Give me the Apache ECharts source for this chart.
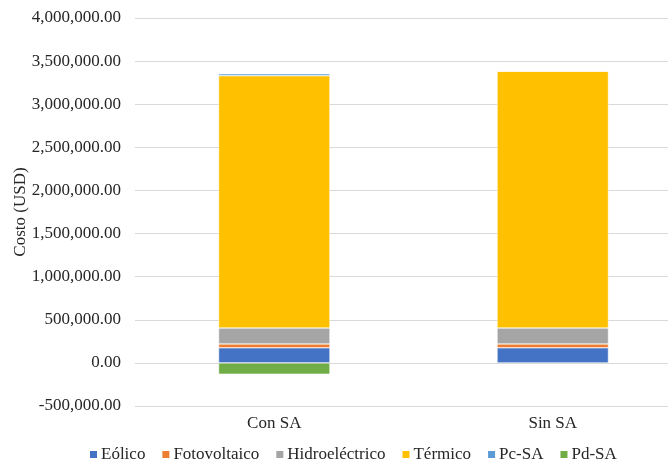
<!DOCTYPE html>
<html>
<head>
<meta charset="utf-8">
<script src="https://cdn.jsdelivr.net/npm/echarts@6/dist/echarts.min.js"></script>
<style>
    html, body { margin: 0; padding: 0; background: #fff; }
    #main { width: 668px; height: 465px; }
</style>
</head>
<body>
<div id="main"></div>
<script>
// datos
var categories = ['Con SA', 'Sin SA'];
var eolico = [175000, 175000];
var fotovoltaico = [45000, 45000];
var hidro = [185000, 185000];
var termico = [2925000, 2979000];
var pcSA = [22000, 0];
var pdSA = [-131000, 0];
var seriesNames = ['Eólico', 'Fotovoltaico', 'Hidroeléctrico', 'Térmico', 'Pc-SA', 'Pd-SA'];

var colors = ['#4472C4', '#ED7D31', '#A5A5A5', '#FFC000', '#5B9BD5', '#70AD47'];
var font = '"Liberation Serif", "Times New Roman", serif';
var txt = '#262626';

function fmt(v) {
    var s = Math.abs(v).toFixed(2).replace(/\B(?=(\d{3})+(?!\d))/g, ',');
    return (v < 0 ? '-' : '') + s;
}

function bar(name, data) {
    return {
        name: name,
        type: 'bar',
        stack: 'total',
        barWidth: '40%',
        itemStyle: { borderColor: '#fff', borderWidth: 0.5 },
        data: data
    };
}

var myChart = echarts.init(document.getElementById('main'));

var option = {
    color: colors,
    animation: false,
    grid: {
        left: 135,
        top: 18,
        right: -24,
        bottom: 59,
        outerBoundsMode: 'none'
    },
    legend: {
        data: seriesNames,
        left: 88,
        bottom: 2,
        padding: 0,
        itemWidth: 9,
        itemHeight: 9,
        itemGap: 15,
        icon: 'rect',
        textStyle: { fontFamily: font, fontSize: 17, color: txt, padding: [0, 0, 0, -2] }
    },
    xAxis: {
        type: 'category',
        data: categories,
        axisTick: { show: false },
        axisLine: { show: false },
        axisLabel: { fontFamily: font, fontSize: 17, color: txt, margin: 9 }
    },
    yAxis: {
        type: 'value',
        min: -500000,
        max: 4000000,
        interval: 500000,
        name: 'Costo (USD)',
        nameLocation: 'middle',
        nameGap: 106,
        nameMoveOverlap: false,
        nameTextStyle: { fontFamily: font, fontSize: 17, color: txt },
        axisLabel: {
            fontFamily: font, fontSize: 17, color: txt, margin: 14,
            formatter: fmt
        },
        splitLine: { lineStyle: { color: '#D9D9D9', width: 1 } }
    },
    series: [
        bar(seriesNames[0], eolico),
        bar(seriesNames[1], fotovoltaico),
        bar(seriesNames[2], hidro),
        bar(seriesNames[3], termico),
        bar(seriesNames[4], pcSA),
        bar(seriesNames[5], pdSA)
    ]
};
myChart.setOption(option);
</script>
</body>
</html>
